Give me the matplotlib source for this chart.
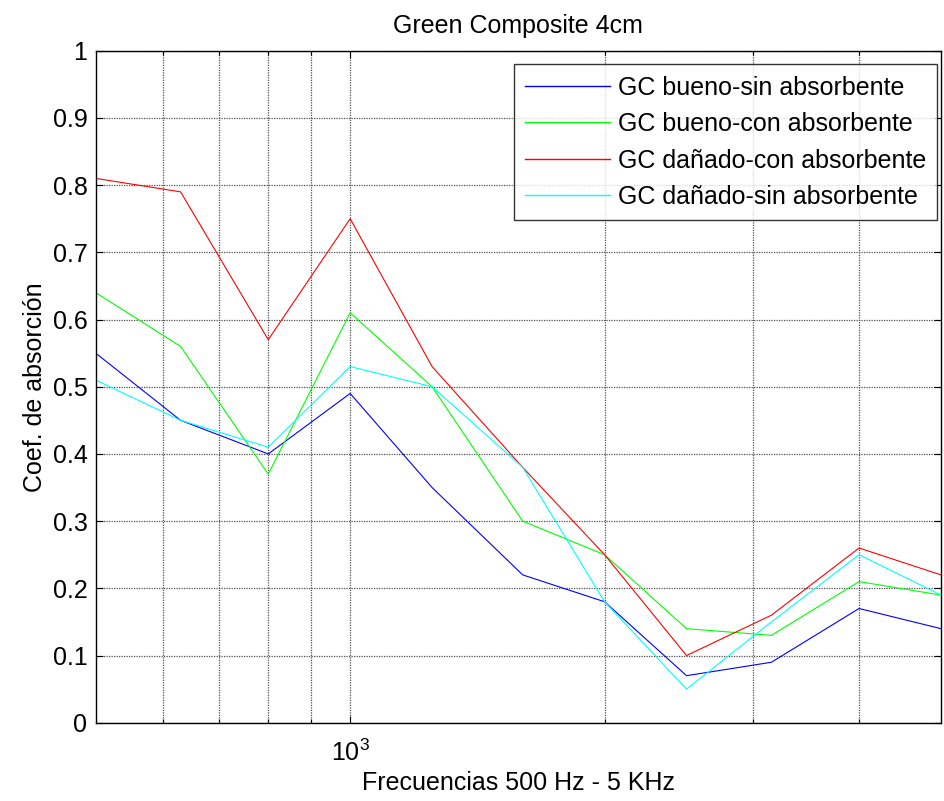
import matplotlib
matplotlib.use("Agg")
import matplotlib.pyplot as plt
from matplotlib.ticker import FixedLocator, FixedFormatter, NullFormatter, LogFormatterSciNotation

plt.rcParams['font.family'] = ['Liberation Sans', 'DejaVu Sans']
plt.rcParams['mathtext.fontset'] = 'custom'
plt.rcParams['mathtext.rm'] = 'Liberation Sans'

freqs = [500, 630, 800, 1000, 1250, 1600, 2000, 2500, 3150, 4000, 5000]
bueno_sin = [0.55, 0.45, 0.40, 0.49, 0.35, 0.22, 0.18, 0.07, 0.09, 0.17, 0.14]
bueno_con = [0.64, 0.56, 0.37, 0.61, 0.50, 0.30, 0.25, 0.14, 0.13, 0.21, 0.19]
danado_con = [0.81, 0.79, 0.57, 0.75, 0.53, 0.38, 0.25, 0.10, 0.16, 0.26, 0.22]
danado_sin = [0.51, 0.45, 0.41, 0.53, 0.50, 0.38, 0.18, 0.05, 0.15, 0.25, 0.19]

labels = ['GC bueno-sin absorbente', 'GC bueno-con absorbente',
          'GC dañado-con absorbente', 'GC dañado-sin absorbente']
colors = ['#0000ff', '#00ff00', '#ff0000', '#00ffff']
title = 'Green Composite 4cm'
xlabel = 'Frecuencias 500 Hz - 5 KHz'
ylabel = 'Coef. de absorción'
yticks = [0, 0.1, 0.2, 0.3, 0.4, 0.5, 0.6, 0.7, 0.8, 0.9, 1]
ytick_labels = ['0', '0.1', '0.2', '0.3', '0.4', '0.5', '0.6', '0.7', '0.8', '0.9', '1']
minor_x = [600, 700, 800, 900, 2000, 3000, 4000]

FS = 18

fig = plt.figure(figsize=(9.44, 8.01), dpi=100)
ax = fig.add_axes([0.1014, 0.0977, 0.8954, 0.8390])

series = [bueno_sin, bueno_con, danado_con, danado_sin]
for vals, c, lab in zip(series, colors, labels):
    ax.plot(freqs, vals, color=c, lw=0.8, label=lab)

ax.set_xscale('log')
ax.set_xlim(500, 5000)
ax.set_ylim(0, 1)
ax.xaxis.set_major_locator(FixedLocator([1000]))
ax.xaxis.set_major_formatter(LogFormatterSciNotation())
ax.xaxis.set_minor_locator(FixedLocator(minor_x))
ax.xaxis.set_minor_formatter(NullFormatter())
ax.yaxis.set_major_locator(FixedLocator(yticks))
ax.yaxis.set_major_formatter(FixedFormatter(ytick_labels))

grid_kw = dict(color='#505050', linestyle=(0, (1, 1)), linewidth=0.9)
ax.grid(True, which='major', axis='both', **grid_kw)
ax.grid(True, which='minor', axis='x', **grid_kw)
ax.set_axisbelow(True)

ax.tick_params(which='both', direction='in', top=True, right=True,
               labelsize=FS, length=5, width=0.8)
ax.tick_params(axis='x', which='minor', length=3)
ax.tick_params(axis='x', pad=12)
ax.tick_params(axis='y', pad=6)
for s in ax.spines.values():
    s.set_linewidth(1.0)

ax.set_title(title, fontsize=FS, pad=13)
ax.set_xlabel(xlabel, fontsize=FS, labelpad=4)
ax.set_ylabel(ylabel, fontsize=FS, labelpad=4)

leg = ax.legend(loc='upper right', bbox_to_anchor=(0.9957, 0.9798), borderaxespad=0,
                fontsize=FS, frameon=True, fancybox=False, edgecolor='black',
                handlelength=3.4, handletextpad=0.32, labelspacing=0.5,
                borderpad=0.45)
leg.get_frame().set_linewidth(1.0)
for l in leg.get_lines():
    l.set_linewidth(1.0)

fig.savefig('out.png', dpi=100)
